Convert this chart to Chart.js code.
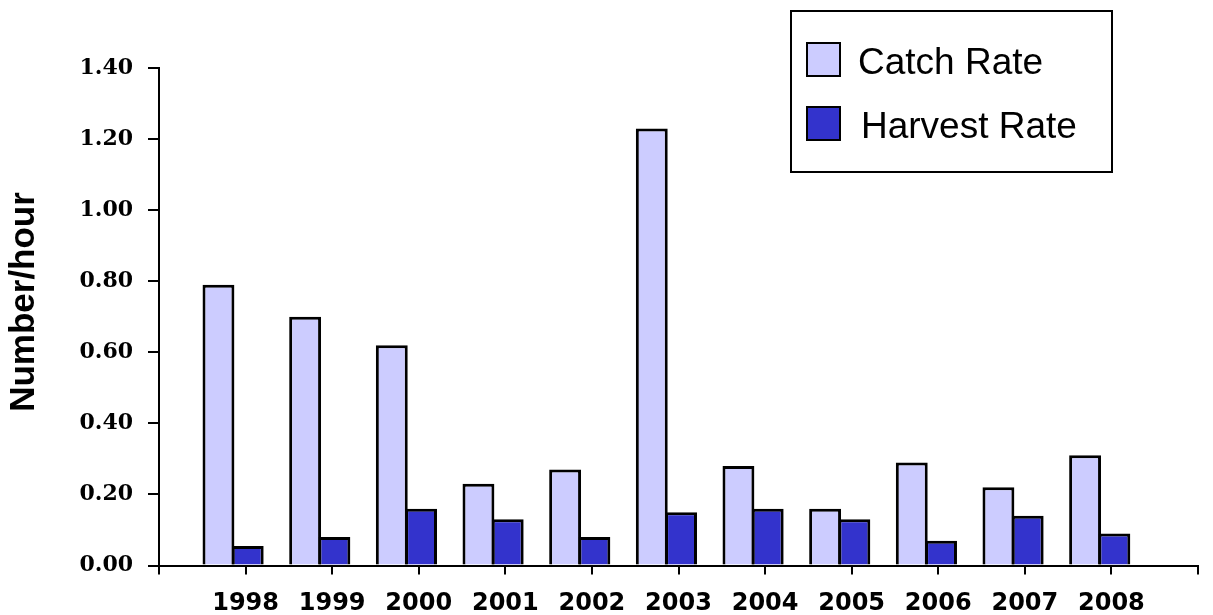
<!DOCTYPE html>
<html>
<head>
<meta charset="utf-8">
<script src="https://cdn.jsdelivr.net/npm/chart.js"></script>
<style>
  body { margin: 0; background: #fff; }
  #wrap { width: 1213px; height: 615px; }
</style>
</head>
<body>
<div id="wrap"><canvas id="myChart"></canvas></div>
<script>
var years = [1998, 1999, 2000, 2001, 2002, 2003, 2004, 2005, 2006, 2007, 2008];
var catchRate = [0.79, 0.70, 0.62, 0.23, 0.27, 1.23, 0.28, 0.16, 0.29, 0.22, 0.31];
var harvestRate = [0.055, 0.08, 0.16, 0.13, 0.08, 0.15, 0.16, 0.13, 0.07, 0.14, 0.09];
var seriesNames = ['Catch Rate', 'Harvest Rate'];
var yTitle = 'Number/hour';

// x axis runs a bit wider than the bars, ticks sit slightly right of each pair
var xMin = 1997.145, xMax = 2009.134;

function points(vals) {
  return years.map(function (yr, i) { return { x: yr, y: vals[i] }; });
}

// boxed legend over the plot (top right) and the rotated y title
var extras = {
  id: 'extras',
  afterDraw: function (chart) {
    var c = chart.ctx;
    c.save();
    c.lineWidth = 2;
    c.strokeStyle = '#000';
    c.strokeRect(791, 11, 321, 161);
    c.font = '37px "Liberation Sans", Arial, sans-serif';
    c.textBaseline = 'alphabetic';
    c.textAlign = 'left';
    chart.data.datasets.forEach(function (ds, i) {
      var y = 43 + i * 64;
      c.fillStyle = ds.backgroundColor;
      c.fillRect(807, y, 33, 33);
      c.strokeRect(807, y, 33, 33);
      c.fillStyle = '#000';
      c.fillText(ds.label, 858 + i * 3, y + 31);
    });
    c.restore();

    c.save();
    c.translate(24, 302);
    c.rotate(-Math.PI / 2);
    c.font = 'bold 35px "Liberation Sans", Arial, sans-serif';
    c.fillStyle = '#000';
    c.textAlign = 'center';
    c.textBaseline = 'middle';
    c.fillText(yTitle, 0, 0);
    c.restore();
  }
};

var ctx = document.getElementById('myChart');

var myChart = new Chart(ctx, {
  type: 'bar',
  data: {
    datasets: [{
      label: seriesNames[0],
      data: points(catchRate),
      backgroundColor: '#CCCCFF',
      borderColor: '#000',
      borderWidth: 3,
      borderSkipped: 'bottom',
      categoryPercentage: 0.676,
      barPercentage: 1.09
    }, {
      label: seriesNames[1],
      data: points(harvestRate),
      backgroundColor: '#3333CC',
      borderColor: '#000',
      borderWidth: 3,
      borderSkipped: 'bottom',
      categoryPercentage: 0.676,
      barPercentage: 1.09
    }]
  },
  options: {
    responsive: true,
    maintainAspectRatio: false,
    animation: false,
    layout: { padding: { left: 0, right: 7, top: 68, bottom: 0 } },
    plugins: {
      legend: { display: false },
      tooltip: { enabled: false }
    },
    scales: {
      x: {
        type: 'linear',
        min: xMin,
        max: xMax,
        offset: false,
        grid: {
          offset: false,
          drawOnChartArea: false,
          drawTicks: true,
          tickLength: 9,
          lineWidth: 2,
          color: '#000'
        },
        border: { display: true, color: '#000', width: 2 },
        afterBuildTicks: function (scale) {
          var n = years.length + 1;
          var t = [];
          for (var k = 0; k <= n; k++) {
            t.push({ value: xMin + k * (xMax - xMin) / n });
          }
          scale.ticks = t;
        },
        afterFit: function (scale) { scale.height = 49.5; },
        ticks: {
          autoSkip: false,
          maxRotation: 0,
          padding: 15,
          color: '#000',
          font: { family: '"DejaVu Sans", sans-serif', size: 24, weight: 'bold' },
          callback: function (value, index) {
            return index >= 1 && index <= years.length ? String(years[index - 1]) : '';
          }
        }
      },
      y: {
        min: 0,
        max: 1.4,
        grid: {
          drawOnChartArea: false,
          drawTicks: true,
          tickLength: 11,
          lineWidth: 2,
          color: '#000'
        },
        border: { display: true, color: '#000', width: 2 },
        afterFit: function (scale) { scale.width = 159; },
        ticks: {
          stepSize: 0.2,
          padding: 15,
          color: '#000',
          font: { family: '"DejaVu Serif", serif', size: 22, weight: 'bold' },
          callback: function (v) { return v.toFixed(2); }
        }
      }
    }
  },
  plugins: [extras]
});
</script>
</body>
</html>
